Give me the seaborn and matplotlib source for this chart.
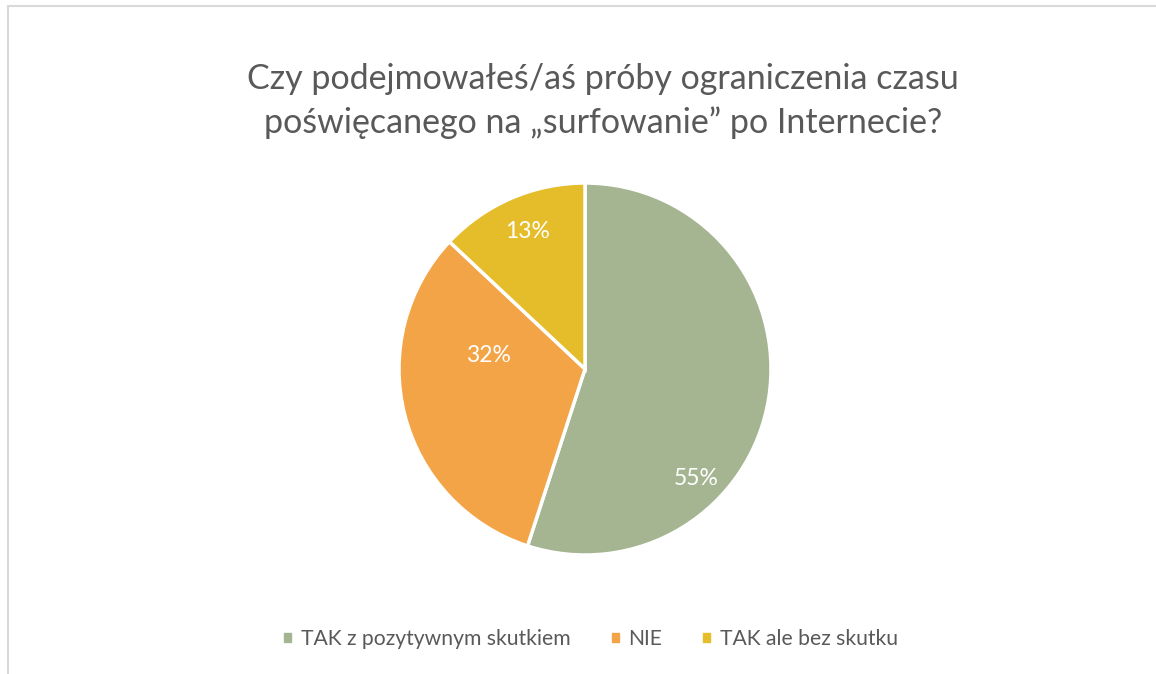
import matplotlib
matplotlib.use("Agg")
import matplotlib.pyplot as plt
import seaborn as sns
from matplotlib.patches import Patch
from matplotlib.lines import Line2D

categories = ["TAK z pozytywnym skutkiem", "NIE", "TAK ale bez skutku"]
values = [55, 32, 13]
colors = ["#A5B592", "#F3A447", "#E5BD2A"]
title = "Czy podejmowałeś/aś próby ograniczenia czasu\npoświęcanego na „surfowanie” po Internecie?"
# label positions relative to pie (radius 1), as Excel placed them
label_pos = [(0.60, -0.59), (-0.52, 0.07), (-0.31, 0.74)]

sns.set_theme(style="white")
plt.rcParams['font.family'] = ['Lato', 'DejaVu Sans']

W, H = 1156, 674
fig = plt.figure(figsize=(W / 100, H / 100), dpi=100)
fig.patch.set_facecolor("white")

cx, cy, r = 585, 369, 186
ax = fig.add_axes([(cx - r) / W, (H - cy - r) / H, 2 * r / W, 2 * r / H])
wedges, _ = ax.pie(values, colors=colors, startangle=90, counterclock=False,
                   radius=1, wedgeprops=dict(edgecolor="white", linewidth=2.5))
for v, (x, y) in zip(values, label_pos):
    ax.text(x, y, f"{v}%", color="white", fontsize=16.5, ha="center", va="center")
ax.set_xlim(-1.0, 1.0)
ax.set_ylim(-1.0, 1.0)
ax.set_aspect("equal")
ax.axis("off")

fig.text(603 / W, 1 - 101 / H, title, ha="center", va="center",
         fontsize=24.5, color="#595959", linespacing=1.4)

handles = [Patch(facecolor=c, edgecolor=c) for c in colors]
leg = fig.legend(handles, categories, loc="center", bbox_to_anchor=(591 / W, 1 - 639 / H),
                 ncol=3, frameon=False, fontsize=15.2, handlelength=0.34, handleheight=0.34,
                 handletextpad=0.45, columnspacing=1.95)
for t in leg.get_texts():
    t.set_color("#595959")

# chart border (top and left as visible)
fig.add_artist(Line2D([8 / W, 1], [1 - 6 / H, 1 - 6 / H], color="#d9d9d9", lw=1.5,
                      transform=fig.transFigure))
fig.add_artist(Line2D([8 / W, 8 / W], [0, 1 - 6 / H], color="#d9d9d9", lw=1.5,
                      transform=fig.transFigure))

fig.savefig("out.png", dpi=100, facecolor="white")
